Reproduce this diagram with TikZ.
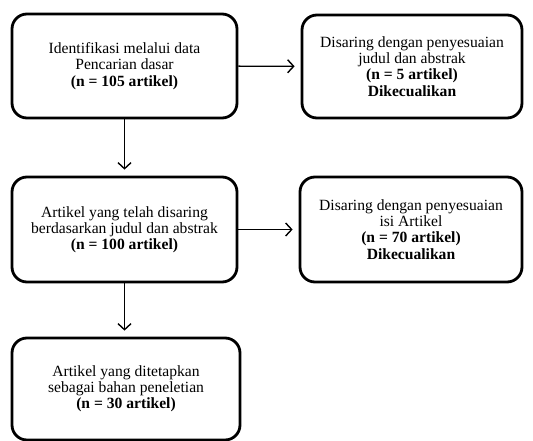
\documentclass[tikz,border=0pt]{standalone}
\usepackage{fontspec}
\setmainfont{Liberation Serif}
\usetikzlibrary{arrows.meta,positioning}
\tikzset{
  flowbox/.style={draw=black, line width=2.8pt, rounded corners=15pt, fill=white,
    align=center, font=\fontsize{15.6}{16.2}\selectfont, inner sep=2pt},
  flowarrow/.style={-{Straight Barb[length=6pt,width=13pt]}, line width=1.4pt, shorten >=6pt}
}
\begin{document}
\begin{tikzpicture}[x=1pt,y=-1pt]
  \useasboundingbox (0,0) rectangle (533,441);

  % Left column
  \node[flowbox, minimum width=225pt, minimum height=104pt] (ident) at (124.5,66)
    {Identifikasi melalui data\\Pencarian dasar\\\textbf{(n = 105 artikel)}};
  \node[flowbox, minimum width=225pt, minimum height=105pt] (saring) at (124.5,229.5)
    {Artikel yang telah disaring\\berdasarkan judul dan abstrak\\\textbf{(n = 100 artikel)}};
  \node[flowbox, minimum width=228pt, minimum height=102pt] (tetap) at (126,389)
    {Artikel yang ditetapkan\\sebagai bahan peneletian\\\textbf{(n = 30 artikel)}};

  % Right column
  \node[flowbox, minimum width=220pt, minimum height=103pt] (abstrak) at (412,66.5)
    {Disaring dengan penyesuaian\\judul dan abstrak\\\textbf{(n = 5 artikel)}\\\textbf{Dikecualikan}};
  \node[flowbox, minimum width=222pt, minimum height=105pt] (isi) at (411,229.5)
    {Disaring dengan penyesuaian\\isi Artikel\\\textbf{(n = 70 artikel)}\\\textbf{Dikecualikan}};

  % Connectors
  \draw[flowarrow] (ident) -- (abstrak);
  \draw[flowarrow] (saring) -- (isi);
  \draw[flowarrow] (ident) -- (saring);
  \draw[flowarrow] (saring.south -| ident.south) -- (tetap.north -| ident.south);
\end{tikzpicture}
\end{document}
